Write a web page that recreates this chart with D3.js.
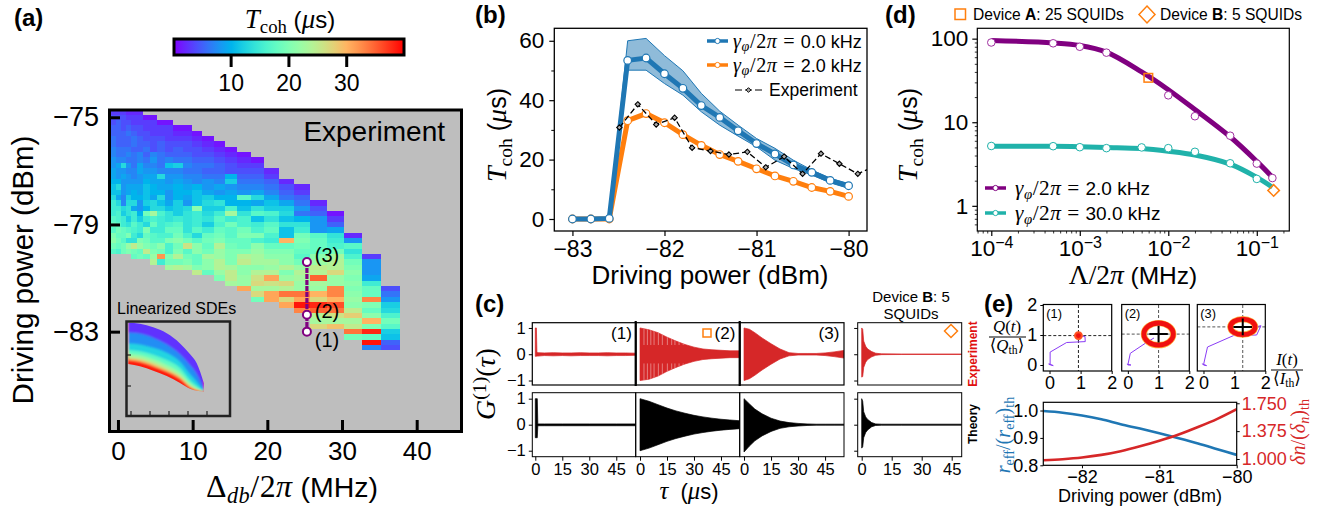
<!DOCTYPE html>
<html>
<head>
<meta charset="utf-8">
<script src="https://cdn.jsdelivr.net/npm/d3@7"></script>
<style>
  body { margin: 0; background: #fff; }
  svg { display: block; }
  text { white-space: pre; }
</style>
</head>
<body>
<div id="chart"></div>
<script>
var SANS = '"Liberation Sans", Arial, sans-serif';
var SERIF = '"Liberation Serif", "DejaVu Serif", serif';

// (a) heat map, rows run top to bottom, 0 = no data
var detuningEdges = [-0.98, -0.31, 0.44, 1.11, 1.78, 2.54, 3.35, 4.24, 5.22, 6.29, 7.4, 8.66, 9.95, 11.28,
    12.81, 14.36, 15.97, 17.76, 19.55, 21.55, 23.56, 25.7, 27.98, 30.25, 32.66, 35.2, 37.82];
var powerTop = -74.7, powerStep = 0.2;
var tcohRows = [
    [3,3,3,2,2,2],
    [4,4,4,3,3,3,1,1],
    [4,5,4,4,3,3,3,3,1,1],
    [5,5,4,5,4,4,3,3,3,3,1,1],
    [5,5,5,6,5,4,4,3,3,3,2,2,1],
    [6,5,5,5,6,5,4,4,4,3,3,3,2,1],
    [6,5,5,5,6,5,5,4,5,4,4,4,3,2,1],
    [7,6,6,6,5,5,6,4,5,4,5,4,4,3,2,1],
    [7,6,6,7,6,7,5,7,6,5,5,5,4,4,3,2,1],
    [8,7,7,6,6,7,6,8,6,7,6,6,5,5,4,3,2,1],
    [8,9,13,8,6,9,7,7,6,11,12,7,6,6,5,4,3,3],
    [9,8,8,7,7,9,8,8,7,7,7,6,6,5,5,4,4,4,2],
    [9,8,9,8,7,8,9,9,13,8,8,7,7,6,6,10,5,5,3],
    [10,10,8,8,8,8,10,9,9,8,9,8,7,8,7,12,6,6,5,2],
    [11,13,8,9,9,9,11,10,9,9,10,9,10,8,9,8,7,7,6,4,2],
    [11,11,8,9,10,9,11,10,10,8,10,10,11,9,8,9,8,9,7,5,3],
    [13,9,7,12,10,10,11,9,13,8,10,9,11,12,10,10,17,13,9,6,5],
    [15,13,7,13,13,8,12,13,11,9,12,8,11,13,14,10,10,9,11,9,6,2],
    [15,15,13,14,9,8,10,13,13,11,12,13,21,12,12,16,11,14,12,12,8,4],
    [15,16,12,14,15,10,19,23,16,14,12,14,15,13,15,23,14,17,16,13,6,5,1],
    [17,16,15,12,15,12,15,16,15,14,15,14,15,14,17,15,16,11,14,11,10,8,3],
    [18,17,15,14,17,15,13,18,15,16,17,14,15,12,16,19,16,15,17,14,14,8,5],
    [17,19,18,17,16,15,20,15,15,18,18,14,17,15,18,17,19,16,18,11,15,8,9],
    [20,18,18,20,15,13,18,17,16,16,19,16,13,18,19,17,20,20,16,11,19,17,14,2],
    [21,19,17,14,14,20,19,17,17,20,21,19,17,19,20,18,18,16,15,30,20,18,15,8],
    [19,18,19,22,25,22,20,19,21,16,19,26,21,18,24,19,18,21,18,18,19,18,16,17],
    [17,16,19,20,19,18,25,20,19,16,20,17,21,19,22,20,20,22,20,20,18,18,19,14],
    [0,0,0,0,18,19,18,22,32,20,24,19,18,23,22,20,24,23,21,21,17,21,23,16,3],
    [0,0,0,0,0,0,0,24,15,19,19,20,18,21,24,20,25,23,23,21,19,22,24,19,8],
    [0,0,0,0,0,0,0,0,0,23,24,23,20,21,24,23,21,21,22,24,22,25,24,20,8],
    [0,0,0,0,0,0,0,0,0,0,0,0,25,18,22,25,21,24,24,20,24,24,27,21,8],
    [0,0,0,0,0,0,0,0,0,0,0,0,0,0,20,25,22,26,31,22,23,35,22,20,9],
    [0,0,0,0,0,0,0,0,0,0,0,0,0,0,0,23,22,27,26,27,22,23,22,21,15],
    [0,0,0,0,0,0,0,0,0,0,0,0,0,0,0,0,31,23,23,24,22,22,33,20,18,4],
    [0,0,0,0,0,0,0,0,0,0,0,0,0,0,0,0,0,27,31,34,34,30,33,21,18,6],
    [0,0,0,0,0,0,0,0,0,0,0,0,0,0,0,0,0,19,31,27,31,27,30,22,33,8],
    [0,0,0,0,0,0,0,0,0,0,0,0,0,0,0,0,0,0,0,31,39,38,36,21,20,12],
    [0,0,0,0,0,0,0,0,0,0,0,0,0,0,0,0,0,0,0,0,33,35,34,25,18,13],
    [0,0,0,0,0,0,0,0,0,0,0,0,0,0,0,0,0,0,0,0,0,24,26,28,21,16],
    [0,0,0,0,0,0,0,0,0,0,0,0,0,0,0,0,0,0,0,0,0,23,23,23,30,19],
    [0,0,0,0,0,0,0,0,0,0,0,0,0,0,0,0,0,0,0,0,0,27,29,25,20,17],
    [0,0,0,0,0,0,0,0,0,0,0,0,0,0,0,0,0,0,0,0,0,0,0,34,38,12],
    [0,0,0,0,0,0,0,0,0,0,0,0,0,0,0,0,0,0,0,0,0,0,0,19,18,11],
    [0,0,0,0,0,0,0,0,0,0,0,0,0,0,0,0,0,0,0,0,0,0,0,0,39,5],
    [0,0,0,0,0,0,0,0,0,0,0,0,0,0,0,0,0,0,0,0,0,0,0,0,7,4]
];
var pointPower = [-80.4, -82.37, -83];
var pointDetuning = 25.3;

// (a) inset, contours of Tcoh (dBm at each detuning)
var insetDetuning = [-1.4, 4.7, 11.7, 18.8, 25.8, 31, 34.6, 38.4];
var insetEdgeTop = [-74.83, -74.96, -75.43, -76.2, -77.5, -78.87, -80.08, -82.66];
var insetBandTcoh = [2.5, 7.5, 12.5, 17.5, 22.5, 27.5, 33, 38.5];
var insetContours = [
    [-76.11, -76.24, -76.76, -77.62, -78.91, -80.29, -81.45, -83.45],
    [-77.5, -77.63, -78.06, -78.7, -79.87, -81.45, -82.44, -83.6],
    [-78.36, -78.53, -78.96, -79.65, -80.68, -82.23, -83.0, -83.66],
    [-78.87, -79.04, -79.56, -80.29, -81.28, -82.66, -83.3, -83.7],
    [-79.3, -79.47, -80.0, -80.76, -81.71, -82.91, -83.43, -83.71],
    [-79.56, -79.78, -80.34, -81.07, -81.97, -83.09, -83.52, -83.72],
    [-79.7, -79.94, -80.5, -81.19, -82.14, -83.22, -83.56, -83.73],
    [-80.16, -80.46, -81.02, -81.71, -82.61, -83.34, -83.6, -83.73]
];

// (b)
var powerB = [-83, -82.8, -82.6, -82.4, -82.2, -82, -81.8, -81.6, -81.4, -81.2, -81, -80.8, -80.6, -80.4, -80.2, -80];
var tcohBlue = [0, 0, 0.2, 53.4, 54.2, 48.9, 44, 38.2, 34.2, 29.7, 25.4, 21.9, 18.2, 15.7, 13, 11.2];
var tcohOrange = [0, 0, 0, 33.1, 35.5, 32.4, 28.4, 24.8, 21.7, 19.4, 16.9, 14.5, 12.7, 10.6, 9.3, 7.6];
var bandPower = [-82.6, -82.4, -82.2, -82, -81.8, -81.6, -81.4, -81.2, -81, -80.8, -80.6, -80.4, -80.2, -80];
var bandUpper = [0.2, 60, 60.8, 55, 49.9, 42.3, 36.3, 31.6, 27.1, 23.8, 19.8, 16.5, 13.7, 11.8];
var bandLower = [0.2, 50.1, 50.1, 45.6, 41.7, 36.1, 31.6, 27.9, 24.3, 19.8, 17, 14.8, 12.2, 10.3];
var expPower = [-82.49, -82.29, -82.09, -81.89, -81.7, -81.5, -81.3, -81.1, -80.9, -80.7, -80.5, -80.3, -80.1, -79.9, -79.7];
var expTcoh = [30.8, 38.6, 31.8, 34.1, 24, 22.9, 21.7, 22.6, 17.4, 21, 15.2, 22, 18.6, 15.2, 18];

// (c) envelopes of the oscillating correlation traces
var tau1 = [0, 0.6, 0.9, 1.5, 5, 10, 15, 20, 25, 30, 35, 40, 45, 50, 56];
var red1Up = [1, 1, 0.07, 0.06, 0.05, 0.06, 0.05, 0.05, 0.06, 0.05, 0.05, 0.06, 0.05, 0.05, 0.04];
var red1Lo = [-0.08, -0.08, -0.07, -0.07, -0.05, -0.06, -0.05, -0.06, -0.05, -0.05, -0.05, -0.06, -0.05, -0.05, -0.04];
var tau1Black = [0, 1.1, 1.4, 5, 15, 30, 45, 56];
var black1Up = [1, 1, 0.03, 0.03, 0.03, 0.03, 0.03, 0.03];
var black1Lo = [-0.5, -0.5, -0.04, -0.04, -0.04, -0.04, -0.04, -0.04];
var tau2 = [0, 5, 10, 15, 20, 25, 30, 35, 40, 45, 50, 56];
var red2Up = [1, 0.93, 0.82, 0.65, 0.5, 0.37, 0.27, 0.2, 0.17, 0.15, 0.13, 0.13];
var red2Lo = [-1, -0.95, -0.83, -0.65, -0.5, -0.37, -0.27, -0.2, -0.17, -0.15, -0.13, -0.13];
var black2Up = [1, 0.9, 0.77, 0.64, 0.53, 0.44, 0.36, 0.3, 0.25, 0.21, 0.18, 0.15];
var black2Lo = [-1, -0.9, -0.77, -0.64, -0.53, -0.44, -0.36, -0.3, -0.25, -0.21, -0.18, -0.15];
var stripeTaus = [2.2, 4.1, 6, 7.8, 10.2, 12.4, 15.2, 17.6, 19.4, 21.7, 24];
var tau3 = [0, 3, 6, 10, 15, 20, 25, 30, 35, 40, 45, 50, 56];
var red3Up = [1, 0.95, 0.82, 0.62, 0.4, 0.2, 0.06, 0.03, 0.03, 0.03, 0.05, 0.09, 0.15];
var red3Lo = [-1, -0.93, -0.8, -0.6, -0.38, -0.18, -0.06, -0.03, -0.03, -0.03, -0.05, -0.09, -0.15];
var black3Up = [1, 0.8, 0.6, 0.42, 0.25, 0.14, 0.08, 0.05, 0.03, 0.02, 0.02, 0.02, 0.02];
var black3Lo = [-1.05, -0.82, -0.62, -0.43, -0.26, -0.14, -0.08, -0.05, -0.03, -0.02, -0.02, -0.02, -0.02];
var tau4 = [0, 0.5, 1, 2, 3, 5, 7, 10, 20, 50];
var red4Up = [1, 0.95, 0.5, 0.3, 0.2, 0.1, 0.04, 0.015, 0.01, 0.01];
var red4Lo = [-0.87, -0.85, -0.5, -0.3, -0.2, -0.1, -0.04, -0.015, -0.01, -0.01];
var black4Up = [1, 0.9, 0.5, 0.3, 0.2, 0.08, 0.03, 0.02, 0.02, 0.02];
var black4Lo = [-0.9, -0.85, -0.5, -0.3, -0.2, -0.08, -0.03, -0.02, -0.02, -0.02];

// (d)
var lamCurve = [1e-4, 5e-4, 1e-3, 2e-3, 5e-3, 1e-2, 2e-2, 5e-2, 1e-1, 0.15];
var purpleCurve = [95, 89, 83, 69, 40, 24.5, 14.2, 6.7, 3.4, 2.2];
var tealCurve = [5.17, 5.15, 5.1, 5, 4.85, 4.5, 4.05, 3.15, 2.19, 1.67];
var lamPoints = [1e-4, 5e-4, 1e-3, 2e-3, 1e-2, 2e-2, 5e-2, 1e-1, 0.15];
var purplePoints = [90, 88, 80, 68, 21, 11.8, 6.9, 3.2, 2.15];
var lamTeal = [1e-4, 5e-4, 1e-3, 2e-3, 5e-3, 1e-2, 2e-2, 5e-2, 1e-1];
var tealPoints = [5.2, 5.17, 5.03, 4.9, 5, 4.9, 4.43, 3.23, 2.1];
var deviceA = [5.95e-3, 34];
var deviceB = [0.155, 1.53];

// (e) phase-space pictures
var pathI = [
    [-0.03, 0.12, -0.02, 0.02, 0.02, 0.55, 1.15, 1.14, 0.93],
    [-0.03, 0.1, 0, 0.08, 0.65, 0.85],
    [-0.05, 0.1, 0, 0.13, 0.97, 1.72, 1.86, 1.7]
];
var pathQ = [
    [0.04, -0.02, 0.02, 0.03, 0.43, 0.75, 0.78, 0.95, 0.98],
    [0.03, 0, 0, 0.39, 0.78, 0.9],
    [0.04, -0.02, 0, 0.6, 0.98, 1.0, 1.31, 1.27]
];
var crossI = [0.93, 1, 1.27];
var crossQ = [0.98, 1.03, 1.27];
var ringRadiusI = [0.11, 0.48, 0.4];
var ringRadiusQ = [0.11, 0.37, 0.26];
var ringAngles = [0, 45, 90, 135, 180, 225, 270, 315];
var powerE = [-82.5, -82.25, -82, -81.75, -81.5, -81.25, -81, -80.75, -80.5, -80.25, -80];
var reffRatio = [0.998, 0.992, 0.982, 0.968, 0.95, 0.934, 0.917, 0.899, 0.88, 0.859, 0.838];
var deltaRatio = [0.982, 0.997, 1.02, 1.055, 1.105, 1.17, 1.245, 1.33, 1.43, 1.54, 1.67];

var svg = d3.select('#chart').append('svg').attr('width', 1323).attr('height', 512)
    .attr('font-family', SANS);

// matplotlib rainbow colormap
function rainbow(t) {
    var r = Math.abs(2 * t - 0.5), g = Math.sin(Math.PI * t), b = Math.cos(Math.PI * t / 2);
    return d3.rgb(255 * Math.min(r, 1), 255 * g, 255 * b).formatHex();
}
var tcohColor = d3.scaleLinear().domain([0, 40]).range([0, 1]).clamp(true);
function colorOf(v) { return rainbow(tcohColor(v)); }

// text with math parts, each part is [string, kind]
function mathText(parent, x, y, parts, size, opts) {
    opts = opts || {};
    var t = parent.append('text').attr('x', x).attr('y', y).attr('font-size', size)
        .attr('text-anchor', opts.anchor || 'middle').attr('fill', opts.fill || '#000');
    if (opts.rotate) t.attr('transform', 'rotate(-90 ' + x + ' ' + y + ')');
    var shift = 0, ms = size * 1.12;
    parts.forEach(function(p) {
        var kind = p[1], ts = t.append('tspan').text(p[0]), target = 0;
        if (kind == 'm' || kind == 'mb' || kind == 'msup') ts.attr('font-family', SERIF).attr('font-style', 'italic').attr('font-size', ms);
        if (kind == 'r' || kind == 'rb' || kind == 'rsup') ts.attr('font-family', SERIF).attr('font-size', ms);
        if (opts.spread && kind != 's') ts.attr('letter-spacing', opts.spread);
        if (kind == 'b') ts.attr('font-weight', 'bold');
        if (kind == 'mb' || kind == 'rb') { ts.attr('font-size', ms * 0.7); target = size * 0.22; }
        if (kind == 'msup' || kind == 'rsup') { ts.attr('font-size', ms * 0.7); target = -size * 0.36; }
        ts.attr('dy', target - shift);
        shift = target;
    });
    return t;
}

function styleAxis(g, size, width, color) {
    g.select('.domain').remove();
    g.attr('font-family', SANS);
    g.selectAll('text').attr('font-size', size).attr('fill', color || '#000');
    g.selectAll('line').attr('stroke-width', width).attr('stroke', '#000');
    return g;
}

function place(axis, x, y, size, width, color) {
    return styleAxis(svg.append('g').attr('transform', 'translate(' + x + ',' + y + ')').call(axis), size, width, color);
}

function frame(x0, y0, x1, y1, w, color) {
    return svg.append('rect').attr('x', x0).attr('y', y0).attr('width', x1 - x0).attr('height', y1 - y0)
        .attr('fill', 'none').attr('stroke', color || '#000').attr('stroke-width', w);
}

function clip(id, x0, y0, x1, y1) {
    svg.append('clipPath').attr('id', id).append('rect').attr('x', x0).attr('y', y0)
        .attr('width', x1 - x0).attr('height', y1 - y0);
}

function panelLabel(s, x, y) {
    svg.append('text').attr('x', x).attr('y', y).attr('font-size', 24).attr('font-weight', 'bold').text(s);
}

function openMarkers(g, xs, ys, x, y, r, color, w) {
    g.selectAll(null).data(xs).enter().append('circle')
        .attr('cx', function(d) { return x(d); })
        .attr('cy', function(d, i) { return y(ys[i]); })
        .attr('r', r).attr('fill', '#fff').attr('stroke', color).attr('stroke-width', w);
}

function seriesLine(xs, ys, x, y, curve) {
    var line = d3.line().x(function(d) { return x(d); })
        .y(function(d, i) { return y(ys[i]); });
    if (curve) line.curve(curve);
    return line(xs);
}

var tcohParts = [['T', 'm'], ['coh', 'rb'], [' (', 's'], ['μ', 'm'], ['s)', 's']];
var SQUARE_ORANGE = '#ff7f0e';

// ---------- panel (a)
function drawA() {
    var x = d3.scaleLinear().domain([-1.2, 46.2]).range([109, 463]);
    var y = d3.scaleLinear().domain([-74.68, -86.73]).range([108.7, 431.6]);
    clip('clipA', 109, 109, 462, 432);

    svg.append('rect').attr('x', 109).attr('y', 109).attr('width', 353).attr('height', 323).attr('fill', '#bebebe');

    var cells = [];
    tcohRows.forEach(function(row, i) {
        row.forEach(function(v, j) {
            if (v > 0) cells.push({ i: i, j: j, v: v });
        });
    });
    svg.append('g').attr('clip-path', 'url(#clipA)').selectAll('rect').data(cells).enter().append('rect')
        .attr('x', function(d) { return x(detuningEdges[d.j]); })
        .attr('width', function(d) { return x(detuningEdges[d.j + 1]) - x(detuningEdges[d.j]); })
        .attr('y', function(d) { return y(powerTop - powerStep * d.i); })
        .attr('height', y(powerTop - powerStep) - y(powerTop))
        .attr('fill', function(d) { return colorOf(d.v); })
        .attr('shape-rendering', 'crispEdges');

    place(d3.axisLeft(y).tickValues([-75, -79, -83]).tickFormat(d3.format('d')).tickSize(-12).tickPadding(9), 108, 0, 27, 3);
    place(d3.axisBottom(x).tickValues([0, 10, 20, 30, 40]).tickSize(-12).tickPadding(10), 0, 432, 26, 3);
    frame(109.5, 110, 461.5, 431.5, 3);

    svg.append('text').attr('x', 445).attr('y', 141).attr('text-anchor', 'end').attr('font-size', 28).text('Experiment');

    // points (1) (2) (3)
    var pp = svg.append('g');
    pp.append('path').attr('fill', 'none').attr('stroke', '#800080').attr('stroke-width', 3.2)
        .attr('stroke-dasharray', '5 1')
        .attr('d', d3.line().x(x(pointDetuning)).y(function(d) { return y(d); })(pointPower));
    pp.selectAll('circle').data(pointPower).enter().append('circle')
        .attr('cx', x(pointDetuning)).attr('cy', function(d) { return y(d); })
        .attr('r', 4).attr('fill', '#fff').attr('stroke', '#800080').attr('stroke-width', 2);
    [['(3)', 262], ['(2)', 318], ['(1)', 347]].forEach(function(d) {
        svg.append('text').attr('x', 327).attr('y', d[1]).attr('text-anchor', 'middle').attr('font-size', 20).text(d[0]);
    });

    // inset
    var ix = d3.scaleLinear().domain([0, 40]).range([131, 207]);
    var iy = d3.scaleLinear().domain([-75, -83]).range([324, 386]);
    svg.append('text').attr('x', 117).attr('y', 314).attr('font-size', 16).text('Linearized SDEs');
    var lastContour = insetContours[insetContours.length - 1];
    var shape = d3.area().curve(d3.curveMonotoneX)
        .x(function(d) { return ix(d); })
        .y0(function(d, i) { return iy(insetEdgeTop[i]); })
        .y1(function(d, i) { return iy(lastContour[i]); });
    svg.append('clipPath').attr('id', 'clipInset').append('path').attr('d', shape(insetDetuning));
    svg.append('filter').attr('id', 'soft').attr('x', '-10%').attr('y', '-10%').attr('width', '120%').attr('height', '120%')
        .append('feGaussianBlur').attr('stdDeviation', 1);
    var inner = svg.append('g').attr('clip-path', 'url(#clipInset)').append('g').attr('filter', 'url(#soft)');
    inner.append('rect').attr('x', 120).attr('y', 320).attr('width', 110).attr('height', 90).attr('fill', colorOf(39));
    d3.range(insetBandTcoh.length - 1, -1, -1).forEach(function(k) {
        var area = d3.area().curve(d3.curveMonotoneX)
            .x(function(d) { return ix(d); })
            .y0(310)
            .y1(function(d, i) { return iy(insetContours[k][i]); });
        inner.append('path').attr('d', area(insetDetuning)).attr('fill', colorOf(insetBandTcoh[k]));
    });
    frame(126.5, 321.5, 230, 416, 2.5, '#222');
    ix.ticks(5).slice(0, 5).forEach(function(t) {
        svg.append('line').attr('x1', ix(t)).attr('x2', ix(t)).attr('y1', 415).attr('y2', 411).attr('stroke', '#222').attr('stroke-width', 1.2);
    });
    [-79, -83].forEach(function(t) {
        svg.append('line').attr('x1', 127).attr('x2', 131).attr('y1', iy(t)).attr('y2', iy(t)).attr('stroke', '#222').attr('stroke-width', 1.2);
    });

    // colour bar
    var cb = d3.scaleLinear().domain([0.2, 40]).range([174, 404]);
    var grad = svg.append('linearGradient').attr('id', 'cbGrad');
    d3.range(0, 1.001, 0.05).forEach(function(t) {
        grad.append('stop').attr('offset', t).attr('stop-color', rainbow(t));
    });
    svg.append('rect').attr('x', 174).attr('y', 39).attr('width', 230).attr('height', 16).attr('fill', 'url(#cbGrad)');
    frame(174, 39, 404, 55, 3);
    place(d3.axisBottom(cb).tickValues([10, 20, 30]).tickSize(11).tickPadding(8), 0, 56, 23, 3);
    mathText(svg, 290, 28, tcohParts, 24);

    mathText(svg, 33, 270, [['Driving power (dBm)', 's']], 29.5, { rotate: true });
    mathText(svg, 292, 497, [['Δ', 'r'], ['db', 'mb'], ['/2', 'r'], ['π', 'm'], [' (MHz)', 's']], 28.5, { spread: 0.5 });
}

// ---------- panel (b)
function drawB() {
    var x = d3.scaleLinear().domain([-83.197, -79.8]).range([554.3, 867]);
    var y = d3.scaleLinear().domain([-4.04, 64.2]).range([231, 28.3]);
    clip('clipB', 554.3, 28.3, 867, 231);
    var g = svg.append('g').attr('clip-path', 'url(#clipB)');

    g.append('path').attr('fill', '#1f77b4').attr('fill-opacity', 0.5)
        .attr('stroke', '#1f77b4').attr('stroke-width', 1)
        .attr('d', d3.area().x(function(d) { return x(d); })
            .y0(function(d, i) { return y(bandLower[i]); })
            .y1(function(d, i) { return y(bandUpper[i]); })(bandPower));

    g.append('path').attr('fill', 'none').attr('stroke', SQUARE_ORANGE).attr('stroke-width', 5)
        .attr('d', seriesLine(powerB, tcohOrange, x, y));
    openMarkers(g, powerB, tcohOrange, x, y, 3.8, SQUARE_ORANGE, 1.2);
    g.append('path').attr('fill', 'none').attr('stroke', '#1f77b4').attr('stroke-width', 5)
        .attr('d', seriesLine(powerB, tcohBlue, x, y));
    openMarkers(g, powerB, tcohBlue, x, y, 3.8, '#1f77b4', 1.2);

    g.append('path').attr('fill', 'none').attr('stroke', '#000').attr('stroke-width', 1.3)
        .attr('stroke-dasharray', '6 3').attr('d', seriesLine(expPower, expTcoh, x, y));
    g.selectAll(null).data(expPower).enter().append('path')
        .attr('d', d3.symbol(d3.symbolDiamond2, 18)())
        .attr('transform', function(d, i) { return 'translate(' + x(d) + ',' + y(expTcoh[i]) + ')'; })
        .attr('fill', '#aaa').attr('stroke', '#000').attr('stroke-width', 1.1);

    frame(554.3, 28.3, 867, 231, 1.3);
    place(d3.axisLeft(y).tickValues([0, 20, 40, 60]).tickSize(5).tickPadding(5), 554.3, 0, 22.5, 1.2);
    place(d3.axisLeft(y).tickValues([10, 30, 50]).tickSize(3).tickFormat(''), 554.3, 0, 10, 1);
    place(d3.axisBottom(x).tickValues([-83, -82, -81, -80]).tickFormat(d3.format('d')).tickSize(5).tickPadding(5), 0, 231, 23, 1.2);

    // legend
    [[41, '#1f77b4', '0.0 kHz'], [65, SQUARE_ORANGE, '2.0 kHz']].forEach(function(d) {
        svg.append('line').attr('x1', 707).attr('x2', 728).attr('y1', d[0]).attr('y2', d[0]).attr('stroke', d[1]).attr('stroke-width', 3.5);
        svg.append('circle').attr('cx', 717.5).attr('cy', d[0]).attr('r', 2.6).attr('fill', '#fff').attr('stroke', d[1]).attr('stroke-width', 1);
        mathText(svg, 733, d[0] + 6.5, [['γ', 'm'], ['φ', 'mb'], ['/2', 'r'], ['π', 'm'], [' = ', 'r'], [d[2], 's']], 18, { anchor: 'start', spread: 0.6 });
    });
    svg.append('line').attr('x1', 735).attr('x2', 762).attr('y1', 90).attr('y2', 90).attr('stroke', '#000').attr('stroke-width', 1.2).attr('stroke-dasharray', '7 3');
    svg.append('path').attr('d', d3.symbol(d3.symbolDiamond2, 14)()).attr('transform', 'translate(748.5,90)')
        .attr('fill', '#aaa').attr('stroke', '#000').attr('stroke-width', 1);
    svg.append('text').attr('x', 769).attr('y', 95.5).attr('font-size', 17.5).text('Experiment');

    mathText(svg, 506, 135, tcohParts, 25, { rotate: true });
    mathText(svg, 710, 284, [['Driving power (dBm)', 's']], 26);
}

// ---------- panel (c)
function drawC() {
    var panels = [
        { l: 532.3, r: 635.7, d: [-1.67, 55.8], tau: tau1, tauB: tau1Black, red: [red1Up, red1Lo], black: [black1Up, black1Lo] },
        { l: 635.7, r: 739.7, d: [-2.4, 55.4], tau: tau2, tauB: tau2, red: [red2Up, red2Lo], black: [black2Up, black2Lo] },
        { l: 739.7, r: 844, d: [-2.4, 55.5], tau: tau3, tauB: tau3, red: [red3Up, red3Lo], black: [black3Up, black3Lo] },
        { l: 857.7, r: 961.7, d: [-2, 50], tau: tau4, tauB: tau4, red: [red4Up, red4Lo], black: [black4Up, black4Lo] }
    ];
    var yTop = d3.scaleLinear().domain([-1.17, 1.2]).range([385, 322.7]);
    var yBot = d3.scaleLinear().domain([-1.23, 1.23]).range([456.7, 392.7]);
    panels.forEach(function(p, k) {
        var x = d3.scaleLinear().domain(p.d).range([p.l, p.r]);
        [[yTop, p.red, '#d62728', 'T', p.tau], [yBot, p.black, '#000', 'B', p.tauB]].forEach(function(row) {
            var y = row[0], id = 'clipC' + row[3] + k;
            clip(id, p.l, y.range()[1], p.r, y.range()[0]);
            var area = d3.area().x(function(d) { return x(d); })
                .y0(function(d, i) { return y(row[1][1][i]); })
                .y1(function(d, i) { return y(row[1][0][i]); });
            svg.append('g').attr('clip-path', 'url(#' + id + ')').append('path')
                .attr('d', area(row[4])).attr('fill', row[2]).attr('stroke', row[2]).attr('stroke-width', 0.7);
        });
        // beat pattern of the trace in (2)
        if (k == 1) {
            svg.append('clipPath').attr('id', 'clipStripe').append('path')
                .attr('d', d3.area().x(function(d) { return x(d); })
                    .y0(function(d, i) { return yTop(p.red[1][i]); })
                    .y1(function(d, i) { return yTop(p.red[0][i]); })(p.tau));
            svg.append('g').attr('clip-path', 'url(#clipStripe)').selectAll('path').data(stripeTaus).enter().append('path')
                .attr('d', function(d) {
                    return 'M' + x(d) + ',' + yTop(1.1) + 'V' + yTop(0.35) + 'M' + x(d) + ',' + yTop(-0.35) + 'V' + yTop(-1.1);
                })
                .attr('stroke', '#fff').attr('stroke-opacity', 0.4).attr('stroke-width', 1);
        }
        place(d3.axisBottom(x).tickValues([0, 15, 30, 45]).tickSize(4).tickPadding(3), 0, 456.7, 16.5, 1);
        frame(p.l, 322.7, p.r, 385, k < 3 ? 1.2 : 1);
        frame(p.l, 392.7, p.r, 456.7, 1);
    });
    // heavier dividers in the top row
    [635.7, 739.7].forEach(function(d) {
        svg.append('line').attr('x1', d).attr('x2', d).attr('y1', 321).attr('y2', 386).attr('stroke', '#000').attr('stroke-width', 2.2);
    });
    place(d3.axisLeft(yTop).tickValues([-1, 0, 1]).tickFormat(d3.format('d')).tickSize(3.5).tickPadding(3), 532.3, 0, 16.5, 1);
    place(d3.axisLeft(yBot).tickValues([-1, 0, 1]).tickFormat(d3.format('d')).tickSize(3.5).tickPadding(3), 532.3, 0, 16.5, 1);
    place(d3.axisLeft(yTop).tickValues([-1, 0, 1]).tickFormat('').tickSize(3.5), 857.7, 0, 10, 1);
    place(d3.axisLeft(yBot).tickValues([-1, 0, 1]).tickFormat('').tickSize(3.5), 857.7, 0, 10, 1);

    [['(1)', 621.5], ['(2)', 725], ['(3)', 829]].forEach(function(d) {
        svg.append('text').attr('x', d[1]).attr('y', 339).attr('text-anchor', 'middle').attr('font-size', 17).text(d[0]);
    });
    svg.append('rect').attr('x', 703).attr('y', 329).attr('width', 8).attr('height', 8)
        .attr('fill', 'none').attr('stroke', SQUARE_ORANGE).attr('stroke-width', 1.5);
    svg.append('path').attr('d', 'M951,324.5L957.5,331L951,337.5L944.5,331Z')
        .attr('fill', 'none').attr('stroke', SQUARE_ORANGE).attr('stroke-width', 1.5);

    mathText(svg, 911, 302, [['Device ', 's'], ['B', 'b'], [': 5', 's']], 15);
    mathText(svg, 911, 319, [['SQUIDs', 's']], 15);
    mathText(svg, 495, 384, [['G', 'm'], ['(1)', 'rsup'], ['(', 'r'], ['τ', 'm'], [')', 'r']], 25, { rotate: true });
    mathText(svg, 689, 499, [['τ', 'm'], ['  (', 's'], ['μ', 'm'], ['s)', 's']], 22);
    mathText(svg, 977, 354, [['Experiment', 'b']], 12, { rotate: true, fill: '#e01010' });
    mathText(svg, 977, 424, [['Theory', 'b']], 12, { rotate: true });
}

// ---------- panel (d)
function drawD() {
    var x = d3.scaleLog().domain([6.95e-5, 0.233]).range([977.3, 1289.3]);
    var y = d3.scaleLog().domain([0.5, 133]).range([231, 28.3]);
    var minorX = [], minorY = [];
    [1e-5, 1e-4, 1e-3, 1e-2, 1e-1].forEach(function(b) {
        d3.range(2, 10).forEach(function(m) {
            if (b * m > 6.95e-5 && b * m < 0.233) minorX.push(b * m);
        });
    });
    [0.1, 1, 10, 100].forEach(function(b) {
        d3.range(2, 10).forEach(function(m) {
            if (b * m > 0.5 && b * m < 133) minorY.push(b * m);
        });
    });
    frame(977.3, 28.3, 1289.3, 231, 1.2);
    place(d3.axisLeft(y).tickValues([1, 10, 100]).tickFormat(d3.format('d')).tickSize(5).tickPadding(4), 977.3, 0, 22.5, 1.2);
    place(d3.axisLeft(y).tickValues(minorY).tickFormat('').tickSize(2.5), 977.3, 0, 8, 0.8);
    var xAxis = place(d3.axisBottom(x).tickValues([1e-4, 1e-3, 1e-2, 1e-1]).tickFormat('').tickSize(5).tickPadding(4), 0, 231, 22.5, 1.2);
    xAxis.selectAll('.tick text').each(function(d) {
        var t = d3.select(this).attr('dy', '0.71em');
        t.append('tspan').text('10');
        t.append('tspan').text('−' + Math.round(-Math.log10(d))).attr('font-size', 16).attr('dy', -8);
    });
    place(d3.axisBottom(x).tickValues(minorX).tickFormat('').tickSize(2.5), 0, 231, 8, 0.8);

    var smooth = d3.curveCatmullRom.alpha(0.5);
    svg.append('path').attr('fill', 'none').attr('stroke', '#800080').attr('stroke-width', 5)
        .attr('d', seriesLine(lamCurve, purpleCurve, x, y, smooth));
    svg.append('path').attr('fill', 'none').attr('stroke', '#20b2aa').attr('stroke-width', 5)
        .attr('d', seriesLine(lamCurve, tealCurve, x, y, smooth));
    openMarkers(svg, lamPoints, purplePoints, x, y, 3.8, '#a030a0', 1);
    openMarkers(svg, lamTeal, tealPoints, x, y, 3.8, '#20b2aa', 1);

    svg.append('rect').attr('x', x(deviceA[0]) - 4.3).attr('y', y(deviceA[1]) - 4.3).attr('width', 8.6).attr('height', 8.6)
        .attr('fill', 'none').attr('stroke', SQUARE_ORANGE).attr('stroke-width', 1.5);
    svg.append('path').attr('d', d3.symbol(d3.symbolDiamond2, 85)())
        .attr('transform', 'translate(' + x(deviceB[0]) + ',' + y(deviceB[1]) + ')')
        .attr('fill', 'none').attr('stroke', SQUARE_ORANGE).attr('stroke-width', 1.5);

    // legends
    [[188, '#800080', '2.0 kHz'], [213, '#20b2aa', '30.0 kHz']].forEach(function(d) {
        svg.append('line').attr('x1', 985).attr('x2', 1006).attr('y1', d[0]).attr('y2', d[0]).attr('stroke', d[1]).attr('stroke-width', 3.5);
        svg.append('circle').attr('cx', 995.5).attr('cy', d[0]).attr('r', 2.6).attr('fill', '#fff').attr('stroke', d[1]).attr('stroke-width', 1);
        mathText(svg, 1015, d[0] + 7, [['γ', 'm'], ['φ', 'mb'], ['/2', 'r'], ['π', 'm'], [' = ', 'r'], [d[2], 's']], 19, { anchor: 'start', spread: 0.5 });
    });
    svg.append('rect').attr('x', 955).attr('y', 9).attr('width', 10.5).attr('height', 10.5)
        .attr('fill', 'none').attr('stroke', SQUARE_ORANGE).attr('stroke-width', 1.5);
    mathText(svg, 973, 19.5, [['Device ', 's'], ['A', 'b'], [': 25 SQUIDs', 's']], 15.6, { anchor: 'start' });
    svg.append('path').attr('d', 'M1147,6L1155,14.5L1147,23L1139,14.5Z').attr('fill', 'none')
        .attr('stroke', SQUARE_ORANGE).attr('stroke-width', 1.5);
    mathText(svg, 1160, 19.5, [['Device ', 's'], ['B', 'b'], [': 5 SQUIDs', 's']], 15.6, { anchor: 'start' });

    mathText(svg, 917, 135, tcohParts, 25, { rotate: true });
    mathText(svg, 1133, 284, [['Λ/2', 'r'], ['π', 'm'], [' (MHz)', 's']], 24.5);
}

// ---------- panel (e)
function drawE() {
    var boxes = [[1043.3, 1111.7], [1121.7, 1189.3], [1197.3, 1265.3]];
    var y = d3.scaleLinear().domain([-0.2, 2]).range([371, 305]);
    boxes.forEach(function(b, k) {
        var x = d3.scaleLinear().domain([-0.2, 2]).range(b);
        var g = svg.append('g');
        g.append('path').attr('d', 'M' + x(crossI[k]) + ',305V371').attr('stroke', k ? '#555' : '#222').attr('stroke-width', 1).attr('stroke-dasharray', '3 2');
        g.append('path').attr('d', 'M' + b[0] + ',' + y(crossQ[k]) + 'H' + b[1]).attr('stroke', k ? '#555' : '#222').attr('stroke-width', 1).attr('stroke-dasharray', '3 2');
        g.append('path').attr('fill', 'none').attr('stroke', '#8a3cf5').attr('stroke-width', 1)
            .attr('d', seriesLine(pathI[k], pathQ[k], x, y));
        var ring = d3.line().curve(d3.curveCardinalClosed)
            .x(function(a) { return x(crossI[k] + ringRadiusI[k] * Math.cos(a * Math.PI / 180)); })
            .y(function(a) { return y(crossQ[k] + ringRadiusQ[k] * Math.sin(a * Math.PI / 180)); });
        if (k == 0) {
            g.append('path').attr('d', ring(ringAngles)).attr('fill', '#f01010').attr('stroke', '#ff5020').attr('stroke-width', 2);
        } else {
            g.append('path').attr('d', ring(ringAngles)).attr('fill', 'none').attr('stroke', '#ffb040').attr('stroke-width', 6.2);
            g.append('path').attr('d', ring(ringAngles)).attr('fill', 'none').attr('stroke', '#f01010').attr('stroke-width', 4.8);
            g.append('path').attr('stroke', '#000').attr('stroke-width', 2)
                .attr('d', 'M' + x(crossI[k] - 0.3) + ',' + y(crossQ[k]) + 'H' + x(crossI[k] + 0.3) +
                    'M' + x(crossI[k]) + ',' + y(crossQ[k] - 0.28) + 'V' + y(crossQ[k] + 0.28));
        }
        frame(b[0], 304.5, b[1], 371, 1.2);
        place(d3.axisBottom(x).tickValues([0, 1, 2]).tickFormat(d3.format('d')).tickSize(3).tickPadding(2), 0, 371, 18, 1);
        svg.append('text').attr('x', b[0] + 3).attr('y', 318).attr('font-size', 12.8).text('(' + (k + 1) + ')');
    });
    place(d3.axisLeft(y).tickValues([0, 1, 2]).tickFormat(d3.format('d')).tickSize(3).tickPadding(3), 1043.3, 0, 18, 1);

    // fractions
    mathText(svg, 1007, 332, [['Q', 'm'], ['(', 'r'], ['t', 'm'], [')', 'r']], 15);
    svg.append('line').attr('x1', 989).attr('x2', 1026).attr('y1', 337).attr('y2', 337).attr('stroke', '#000');
    mathText(svg, 1007, 351, [['⟨', 'r'], ['Q', 'm'], ['th', 'rb'], ['⟩', 'r']], 15);
    mathText(svg, 1287, 365, [['I', 'm'], ['(', 'r'], ['t', 'm'], [')', 'r']], 15);
    svg.append('line').attr('x1', 1271).attr('x2', 1303).attr('y1', 370).attr('y2', 370).attr('stroke', '#000');
    mathText(svg, 1287, 384, [['⟨', 'r'], ['I', 'm'], ['th', 'rb'], ['⟩', 'r']], 15);

    // bottom plot
    var x = d3.scaleLinear().domain([-82.5, -80]).range([1043.3, 1236.7]);
    var yL = d3.scaleLinear().domain([0.8, 1.03]).range([465.3, 402.3]);
    var yR = d3.scaleLinear().domain([0.915, 1.763]).range([465.3, 402.3]);
    clip('clipE', 1043.3, 402.3, 1236.7, 465.3);
    var g = svg.append('g').attr('clip-path', 'url(#clipE)');
    var smooth = d3.curveCatmullRom.alpha(0.5);
    g.append('path').attr('fill', 'none').attr('stroke', '#1f77b4').attr('stroke-width', 2.6)
        .attr('d', seriesLine(powerE, reffRatio, x, yL, smooth));
    g.append('path').attr('fill', 'none').attr('stroke', '#d62728').attr('stroke-width', 2.6)
        .attr('d', seriesLine(powerE, deltaRatio, x, yR, smooth));
    frame(1043.3, 402.3, 1236.7, 465.3, 1.2);
    place(d3.axisLeft(yL).tickValues([0.8, 0.9, 1.0]).tickFormat(d3.format('.1f')).tickSize(3).tickPadding(2), 1043.3, 0, 18, 1);
    place(d3.axisRight(yR).tickValues([1, 1.375, 1.75]).tickFormat(d3.format('.3f')).tickSize(3).tickPadding(2), 1236.7, 0, 18, 1, '#d62728');
    place(d3.axisBottom(x).tickValues([-82, -81, -80]).tickFormat(d3.format('d')).tickSize(3).tickPadding(2), 0, 465.3, 18, 1);

    mathText(svg, 1140, 502, [['Driving power (dBm)', 's']], 18);
    mathText(svg, 1010, 435, [['r', 'm'], ['eff', 'rb'], ['/(', 'r'], ['r', 'm'], ['eff', 'rb'], [')', 'r'], ['th', 'rb']], 18, { rotate: true, fill: '#1f77b4' });
    mathText(svg, 1305, 432, [['δn', 'm'], ['/(', 'r'], ['δ', 'm'], ['n', 'mb'], [')', 'r'], ['th', 'rb']], 18, { rotate: true, fill: '#d62728' });
}

drawA();
drawB();
drawC();
drawD();
drawE();

panelLabel('(a)', 14, 26);
panelLabel('(b)', 475, 23);
panelLabel('(c)', 475, 312);
panelLabel('(d)', 885, 23);
panelLabel('(e)', 984, 312);
</script>
</body>
</html>
